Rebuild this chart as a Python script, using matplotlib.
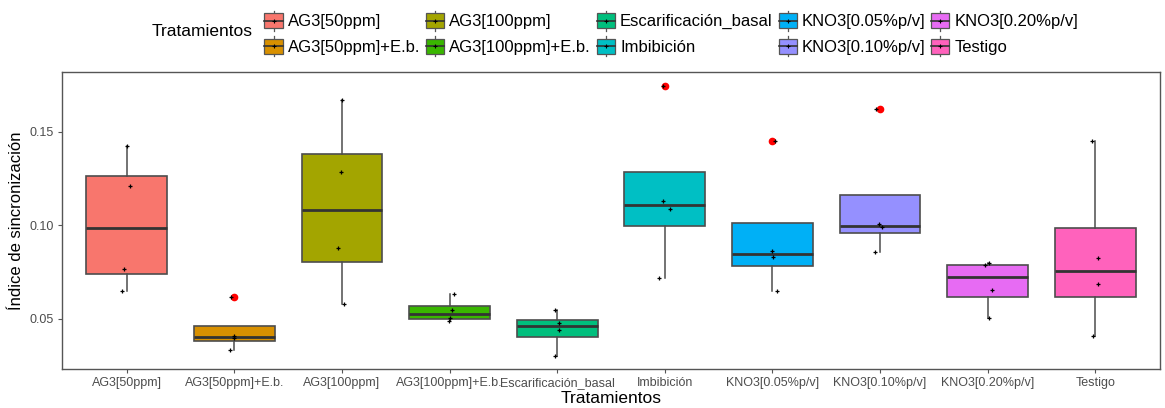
import matplotlib
matplotlib.use("Agg")
import matplotlib.pyplot as plt
import numpy as np
from matplotlib.legend_handler import HandlerBase
from matplotlib.patches import Rectangle
from matplotlib.lines import Line2D

plt.rcParams['font.family'] = ['Liberation Sans', 'DejaVu Sans']

# Tratamientos (categorias) y valores
tratamientos = ["AG3[50ppm]", "AG3[50ppm]+E.b.", "AG3[100ppm]", "AG3[100ppm]+E.b.",
                "Escarificación_basal", "Imbibición", "KNO3[0.05%p/v]",
                "KNO3[0.10%p/v]", "KNO3[0.20%p/v]", "Testigo"]

ag3_50 = [0.0650, 0.0766, 0.1210, 0.1425]
ag3_50_eb = [0.0330, 0.0398, 0.0409, 0.0618]
ag3_100 = [0.0577, 0.0878, 0.1284, 0.1673]
ag3_100_eb = [0.0489, 0.0502, 0.0545, 0.0632]
escarificacion = [0.0298, 0.0439, 0.0477, 0.0545]
imbibicion = [0.0718, 0.1087, 0.1130, 0.1746]
kno3_005 = [0.0650, 0.0829, 0.0864, 0.1450]
kno3_010 = [0.0859, 0.0990, 0.1005, 0.1623]
kno3_020 = [0.0502, 0.0655, 0.0786, 0.0798]
testigo = [0.0409, 0.0686, 0.0827, 0.1452]

valores = [ag3_50, ag3_50_eb, ag3_100, ag3_100_eb, escarificacion,
           imbibicion, kno3_005, kno3_010, kno3_020, testigo]

colores = ["#F8766D", "#D89000", "#A3A500", "#39B600", "#00BF7D",
           "#00BFC4", "#00B0F6", "#9590FF", "#E76BF3", "#FF62BC"]

y_ticks = [0.05, 0.10, 0.15]


class BoxKey(HandlerBase):
    # dibuja la llave del legend como un boxplot pequeno
    def create_artists(self, legend, orig_handle, xdescent, ydescent,
                       width, height, fontsize, trans):
        cx = width / 2 - xdescent
        cy = height / 2 - ydescent
        s = min(width, height)
        w = Line2D([cx, cx], [cy - s * 0.55, cy + s * 0.55], color="#555555",
                   lw=0.9, transform=trans)
        r = Rectangle((cx - s / 2, cy - s * 0.4), s, s * 0.8,
                      facecolor=orig_handle.get_facecolor(),
                      edgecolor="#555555", lw=0.9, transform=trans)
        m = Line2D([cx - s / 2, cx + s / 2], [cy, cy], color="#333333",
                   lw=1.2, transform=trans)
        p = Line2D([cx], [cy], marker="+", ms=3, mew=0.8, color="black",
                   transform=trans)
        return [w, r, m, p]


fig = plt.figure(figsize=(11.65, 4.08), dpi=100)
ax = fig.add_axes([62 / 1165, 1 - 369 / 408, 1098 / 1165, 297 / 408])

pos = np.arange(1, len(tratamientos) + 1)
bp = ax.boxplot(valores, positions=pos, widths=0.75, patch_artist=True,
                showcaps=False, whis=1.5,
                boxprops=dict(edgecolor="#4D4D4D", linewidth=1.2),
                medianprops=dict(color="#333333", linewidth=2.0),
                whiskerprops=dict(color="#4D4D4D", linewidth=1.1),
                flierprops=dict(marker="o", markerfacecolor="red",
                                markeredgecolor="red", markersize=4.5))
for patch, c in zip(bp["boxes"], colores):
    patch.set_facecolor(c)

# puntos con jitter
rng = np.random.default_rng(3)
for i, v in enumerate(valores):
    jit = rng.uniform(-0.05, 0.05, len(v))
    ax.scatter(pos[i] + jit, v, s=9, marker="+", linewidths=0.9,
               color="black", zorder=5)

ax.set_xlim(0.4, len(tratamientos) + 0.6)
ax.set_ylim(0.0230, 0.1821)
ax.set_xticks(pos)
ax.set_xticklabels(tratamientos, fontsize=9, color="#4D4D4D")
ax.set_yticks(y_ticks)
ax.set_yticklabels(["%.2f" % t for t in y_ticks], fontsize=9, color="#4D4D4D")
ax.tick_params(length=3, color="#555555", width=0.8, pad=3)
for sp in ax.spines.values():
    sp.set_color("#555555")
    sp.set_linewidth(1.0)
ax.set_xlabel("Tratamientos", fontsize=12.5, labelpad=1)
ax.set_ylabel("Índice de sincronización", fontsize=12, labelpad=4)

handles = [Rectangle((0, 0), 1, 1, facecolor=c) for c in colores]
leg = fig.legend(handles, tratamientos, ncol=5, loc="upper left",
                 bbox_to_anchor=(251 / 1165, 1 - 0 / 408), frameon=False,
                 fontsize=12, handler_map={Rectangle: BoxKey()},
                 handlelength=1.3, handleheight=1.3, handletextpad=0.2,
                 columnspacing=0.25, labelspacing=0.45, borderpad=0.2)
fig.text(152 / 1165, 1 - 32 / 408, "Tratamientos", fontsize=12.5, va="center")

fig.savefig("out.png", dpi=100)
